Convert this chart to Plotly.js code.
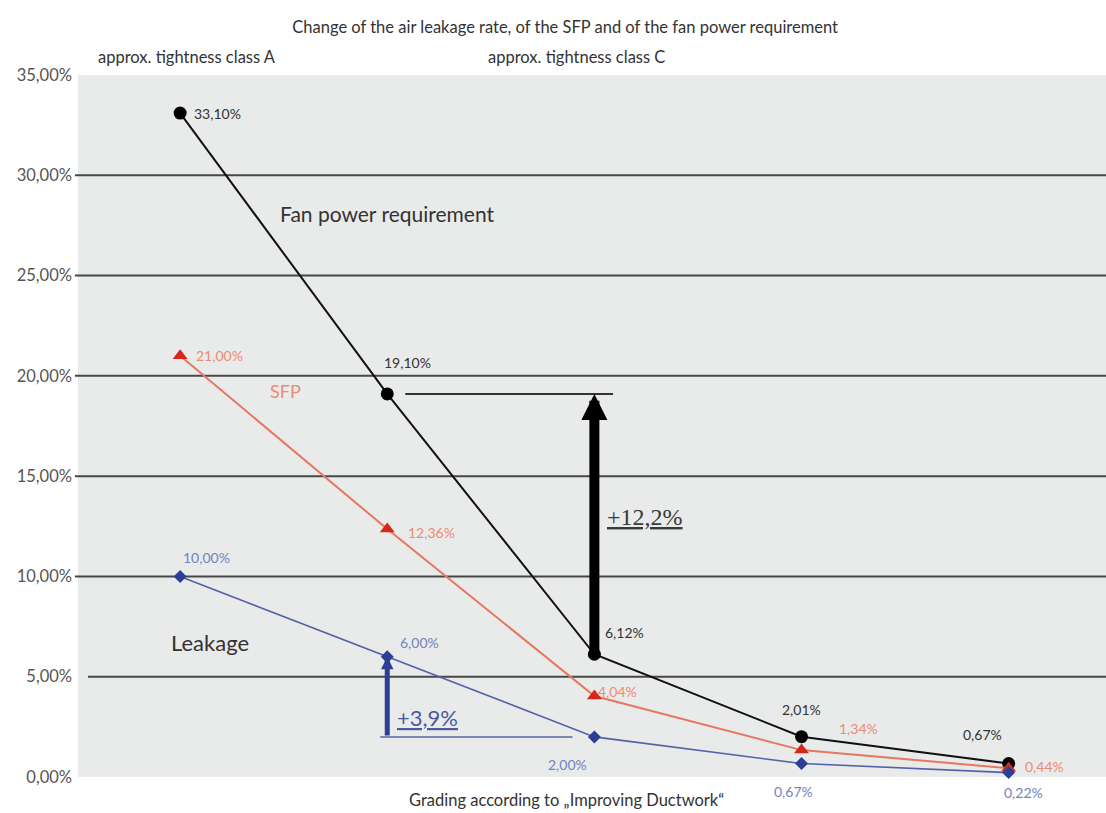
<!DOCTYPE html>
<html>
<head>
<meta charset="utf-8">
<script src="https://cdn.plot.ly/plotly-3.0.1.min.js"></script>
<style>html,body{margin:0;padding:0;background:#fff;}#chart{width:1106px;height:813px;}</style>
</head>
<body>
<div id="chart"></div>
<script>
// ---- data ----
const grades = [1, 2, 3, 4, 5];
const fanPower = [33.10, 19.10, 6.12, 2.01, 0.67];
const sfp = [21.00, 12.36, 4.04, 1.34, 0.44];
const leakage = [10.00, 6.00, 2.00, 0.67, 0.22];
const yTickVals = [0, 5, 10, 15, 20, 25, 30, 35];
const yTickText = ['0,00%', '5,00%', '10,00%', '15,00%', '20,00%', '25,00%', '30,00%', '35,00%'];
const gridVals = [5, 10, 15, 20, 25, 30];
const titleText = 'Change of the air leakage rate, of the SFP and of the fan power requirement';
const xTitleText = 'Grading according to \u201EImproving Ductwork\u201C';
const classLabels = ['approx. tightness class A', 'approx. tightness class C'];
const seriesNames = ['Fan power requirement', 'SFP', 'Leakage'];
const diffLabels = ['+12,2%', '+3,9%'];

// ---- styling ----
const FONT = 'Lato, "Open Sans", sans-serif';
const fmt = v => v.toFixed(2).replace('.', ',') + '%';

const fanColor = '#111111', sfpLine = '#e5785f', sfpMarker = '#d9261c', sfpText = '#e98c74';
const leakLine = '#5362a8', leakMarker = '#2c3f95', leakText = '#7482bf';

// label offsets (pixels) per point
const fanOff = [[12, 0, 'left'], [20, -31, 'center'], [30, -22, 'center'], [0, -27, 'center'], [-26, -29, 'center']];
const sfpOff = [[14, 0, 'left'], [44, 3, 'center'], [23, -4, 'center'], [57, -22, 'center'], [36, -2, 'center']];
const leakOff = [[26, -19, 'center'], [32, -14, 'center'], [-27, 28, 'center'], [-8, 28, 'center'], [15, 20, 'center']];

const traces = [
  {x: grades, y: fanPower, mode: 'lines+markers', line: {color: fanColor, width: 2},
   marker: {symbol: 'circle', size: 13, color: '#000'}, cliponaxis: false},
  {x: grades, y: sfp, mode: 'lines+markers', line: {color: sfpLine, width: 2},
   marker: {symbol: 'triangle-up', size: 13, color: sfpMarker}, cliponaxis: false},
  {x: grades, y: leakage, mode: 'lines+markers', line: {color: leakLine, width: 1.6},
   marker: {symbol: 'diamond', size: 10, color: leakMarker}, cliponaxis: false}
];

const annotations = [];
function addLabels(vals, offs, color) {
  vals.forEach((v, i) => {
    const o = offs[i];
    annotations.push({x: grades[i], y: v, xref: 'x', yref: 'y', text: fmt(v), showarrow: false,
      xanchor: o[2], yanchor: 'middle', xshift: o[0], yshift: -o[1],
      font: {family: FONT, size: 14, color: color}});
  });
}
addLabels(fanPower, fanOff, '#333333');
addLabels(sfp, sfpOff, sfpText);
addLabels(leakage, leakOff, leakText);

// series names
annotations.push({x: 2, y: 28.1, xref: 'x', yref: 'y', text: seriesNames[0], showarrow: false,
  xanchor: 'center', font: {family: FONT, size: 21, color: '#333'}});
annotations.push({x: 1.507, y: 19.24, xref: 'x', yref: 'y', text: seriesNames[1], showarrow: false,
  xanchor: 'center', font: {family: FONT, size: 18, color: sfpText}});
annotations.push({x: 1.145, y: 6.73, xref: 'x', yref: 'y', text: seriesNames[2], showarrow: false,
  xanchor: 'center', font: {family: FONT, size: 22, color: '#333'}});

// class headers
annotations.push({x: 0.106, y: 1.0256, xref: 'paper', yref: 'paper', text: classLabels[0], showarrow: false,
  xanchor: 'center', yanchor: 'middle', font: {family: FONT, size: 16.5, color: '#333'}});
annotations.push({x: 0.485, y: 1.0256, xref: 'paper', yref: 'paper', text: classLabels[1], showarrow: false,
  xanchor: 'center', yanchor: 'middle', font: {family: FONT, size: 16.5, color: '#333'}});

// x axis caption
annotations.push({x: 0.475, y: -0.033, xref: 'paper', yref: 'paper', text: xTitleText, showarrow: false,
  xanchor: 'center', yanchor: 'middle', font: {family: FONT, size: 16.5, color: '#333'}});

// difference arrows
annotations.push({x: grades[2], y: fanPower[1], ax: grades[2], ay: fanPower[2], axref: 'x', ayref: 'y',
  xref: 'x', yref: 'y', text: '', showarrow: true, arrowhead: 2, arrowwidth: 10, arrowsize: 0.52,
  arrowcolor: '#000', standoff: 0, startstandoff: 0});
annotations.push({x: grades[1], y: leakage[1], ax: grades[1], ay: leakage[2], axref: 'x', ayref: 'y',
  xref: 'x', yref: 'y', text: '', showarrow: true, arrowhead: 2, arrowwidth: 5, arrowsize: 0.5,
  arrowcolor: leakMarker, standoff: 0, startstandoff: 0});

annotations.push({x: 3.246, y: 12.96, xref: 'x', yref: 'y', text: diffLabels[0], showarrow: false,
  xanchor: 'center', font: {family: '"Liberation Serif", serif', size: 24, color: '#3a3a3a', lineposition: 'under'}});
annotations.push({x: 2.193, y: 2.99, xref: 'x', yref: 'y', text: diffLabels[1], showarrow: false,
  xanchor: 'center', font: {family: FONT, size: 22, color: '#4a5aa0', lineposition: 'under'}});

const shapes = gridVals.map(v => ({type: 'line', xref: 'paper', yref: 'y', layer: 'below',
  x0: v === 5 ? 0.0097 : -0.003, x1: 1, y0: v, y1: v, line: {color: '#474747', width: 2}}));
shapes.push({type: 'line', xref: 'x', yref: 'y', layer: 'below', x0: 2.087, x1: 3.09,
  y0: fanPower[1], y1: fanPower[1], line: {color: '#333', width: 2}});
shapes.push({type: 'line', xref: 'x', yref: 'y', layer: 'below', x0: 1.966, x1: 2.894,
  y0: leakage[2], y1: leakage[2], line: {color: '#7c88b4', width: 2}});

const layout = {
  width: 1106, height: 813,
  margin: {l: 78, r: 0, t: 75, b: 36},
  paper_bgcolor: '#ffffff', plot_bgcolor: '#e9eaea',
  showlegend: false,
  title: {text: titleText, x: 0.511, xanchor: 'center', y: 0.967, yanchor: 'middle',
    font: {family: FONT, size: 16.5, color: '#333'}},
  xaxis: {range: [0.507, 5.47], showgrid: false, zeroline: false, showticklabels: false,
    showline: false, ticks: '', fixedrange: true},
  yaxis: {range: [0, 35], tickvals: yTickVals, ticktext: yTickText, showgrid: false, zeroline: false,
    showline: false, ticks: '', ticklabelstandoff: 5,
    tickfont: {family: FONT, size: 16.5, color: '#555'}, fixedrange: true},
  shapes: shapes,
  annotations: annotations
};

Plotly.newPlot('chart', traces, layout, {displayModeBar: false, staticPlot: true});
</script>
</body>
</html>
